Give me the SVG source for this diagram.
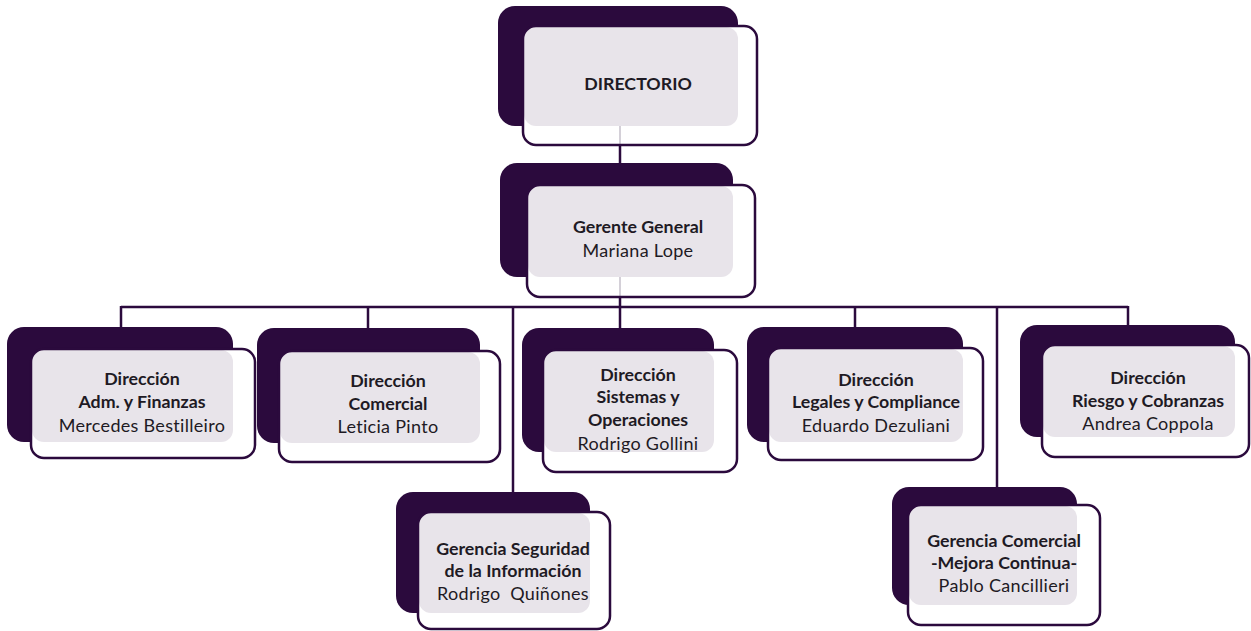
<svg xmlns="http://www.w3.org/2000/svg" width="1251" height="631" viewBox="0 0 1251 631">
<style>
.dark{fill:#2b0a3d}
.fw{fill:#ffffff}
.lav{fill:#e8e4ea}
.fs{fill:none;stroke:#2b0a3d;stroke-width:2.5}
.con{fill:none;stroke:#2b0a3d;stroke-width:2.5}
.faint{fill:none;stroke:#d4d0d8;stroke-width:2}
text{font-family:Lato,"Open Sans","Liberation Sans",sans-serif;font-size:18px;letter-spacing:0.3px;fill:#1e1a24;text-anchor:middle}
.b{font-weight:bold;letter-spacing:0px;font-size:17.8px}
</style>
<rect width="1251" height="631" fill="#ffffff"/>
<g id="connectors">
<line class="con" x1="620" y1="145" x2="620" y2="185"/>
<line class="con" x1="620" y1="297" x2="620" y2="328"/>
<line class="con" x1="121" y1="307" x2="1128" y2="307"/>
<line class="con" x1="121" y1="306" x2="121" y2="327"/>
<line class="con" x1="368" y1="306" x2="368" y2="328"/>
<line class="con" x1="513" y1="306" x2="513" y2="492"/>
<line class="con" x1="855" y1="306" x2="855" y2="327"/>
<line class="con" x1="997" y1="306" x2="997" y2="487"/>
<line class="con" x1="1128" y1="306" x2="1128" y2="325"/>
</g>
<g id="n-directorio">
<rect class="dark" x="498" y="6" width="240" height="120" rx="17"/>
<rect class="fw" x="523" y="26" width="234" height="119" rx="13"/>
<rect class="lav" x="524" y="27" width="214" height="99" rx="12"/>
<line class="faint" x1="620" y1="126" x2="620" y2="144"/>
<rect class="fs" x="523" y="26" width="234" height="119" rx="13"/>
<text class="b" x="638" y="90">DIRECTORIO</text>
</g>
<g id="n-gerente">
<rect class="dark" x="500" y="163" width="233" height="114" rx="17"/>
<rect class="fw" x="527" y="185" width="228" height="112" rx="13"/>
<rect class="lav" x="528" y="186" width="205" height="91" rx="12"/>
<line class="faint" x1="620" y1="277" x2="620" y2="296"/>
<rect class="fs" x="527" y="185" width="228" height="112" rx="13"/>
<text class="b" x="638" y="233">Gerente General</text>
<text x="638" y="257">Mariana Lope</text>
</g>
<g id="n-adm">
<rect class="dark" x="7" y="327" width="226" height="115" rx="17"/>
<rect class="fw" x="31" y="349" width="224" height="109" rx="13"/>
<rect class="lav" x="32" y="350" width="201" height="92" rx="12"/>
<rect class="fs" x="31" y="349" width="224" height="109" rx="13"/>
<text class="b" x="142" y="385">Dirección</text>
<text class="b" x="142" y="408">Adm. y Finanzas</text>
<text x="142" y="432">Mercedes Bestilleiro</text>
</g>
<g id="n-comercial">
<rect class="dark" x="257" y="328" width="223" height="115" rx="17"/>
<rect class="fw" x="279" y="351" width="221" height="111" rx="13"/>
<rect class="lav" x="280" y="352" width="200" height="91" rx="12"/>
<rect class="fs" x="279" y="351" width="221" height="111" rx="13"/>
<text class="b" x="388" y="387">Dirección</text>
<text class="b" x="388" y="410">Comercial</text>
<text x="388" y="433">Leticia Pinto</text>
</g>
<g id="n-sistemas">
<rect class="dark" x="522" y="328" width="192" height="124" rx="17"/>
<rect class="fw" x="543" y="350" width="194" height="122" rx="13"/>
<rect class="lav" x="544" y="351" width="170" height="101" rx="12"/>
<rect class="fs" x="543" y="350" width="194" height="122" rx="13"/>
<text class="b" x="638" y="381">Dirección</text>
<text class="b" x="638" y="403">Sistemas y</text>
<text class="b" x="638" y="426">Operaciones</text>
<text x="638" y="450">Rodrigo Gollini</text>
</g>
<g id="n-legales">
<rect class="dark" x="747" y="327" width="216" height="115" rx="17"/>
<rect class="fw" x="768" y="348" width="215" height="112" rx="13"/>
<rect class="lav" x="769" y="349" width="194" height="93" rx="12"/>
<rect class="fs" x="768" y="348" width="215" height="112" rx="13"/>
<text class="b" x="876" y="386">Dirección</text>
<text class="b" x="876" y="408">Legales y Compliance</text>
<text x="876" y="432">Eduardo Dezuliani</text>
</g>
<g id="n-riesgo">
<rect class="dark" x="1020" y="325" width="215" height="112" rx="17"/>
<rect class="fw" x="1042" y="345" width="207" height="112" rx="13"/>
<rect class="lav" x="1043" y="346" width="192" height="91" rx="12"/>
<rect class="fs" x="1042" y="345" width="207" height="112" rx="13"/>
<text class="b" x="1148" y="384">Dirección</text>
<text class="b" x="1148" y="407">Riesgo y Cobranzas</text>
<text x="1148" y="430">Andrea Coppola</text>
</g>
<g id="n-seguridad">
<rect class="dark" x="396" y="492" width="194" height="121" rx="17"/>
<rect class="fw" x="418" y="512" width="192" height="117" rx="13"/>
<rect class="lav" x="419" y="513" width="171" height="100" rx="12"/>
<rect class="fs" x="418" y="512" width="192" height="117" rx="13"/>
<text class="b" x="513" y="555">Gerencia Seguridad</text>
<text class="b" x="513" y="577">de la Información</text>
<text x="513" y="600" xml:space="preserve" style="white-space:pre">Rodrigo  Quiñones</text>
</g>
<g id="n-gcomercial">
<rect class="dark" x="892" y="487" width="185" height="118" rx="17"/>
<rect class="fw" x="908" y="505" width="192" height="120" rx="13"/>
<rect class="lav" x="909" y="506" width="168" height="99" rx="12"/>
<rect class="fs" x="908" y="505" width="192" height="120" rx="13"/>
<text class="b" x="1004" y="547">Gerencia Comercial</text>
<text class="b" x="1004" y="569">-Mejora Continua-</text>
<text x="1004" y="592">Pablo Cancillieri</text>
</g>
</svg>
